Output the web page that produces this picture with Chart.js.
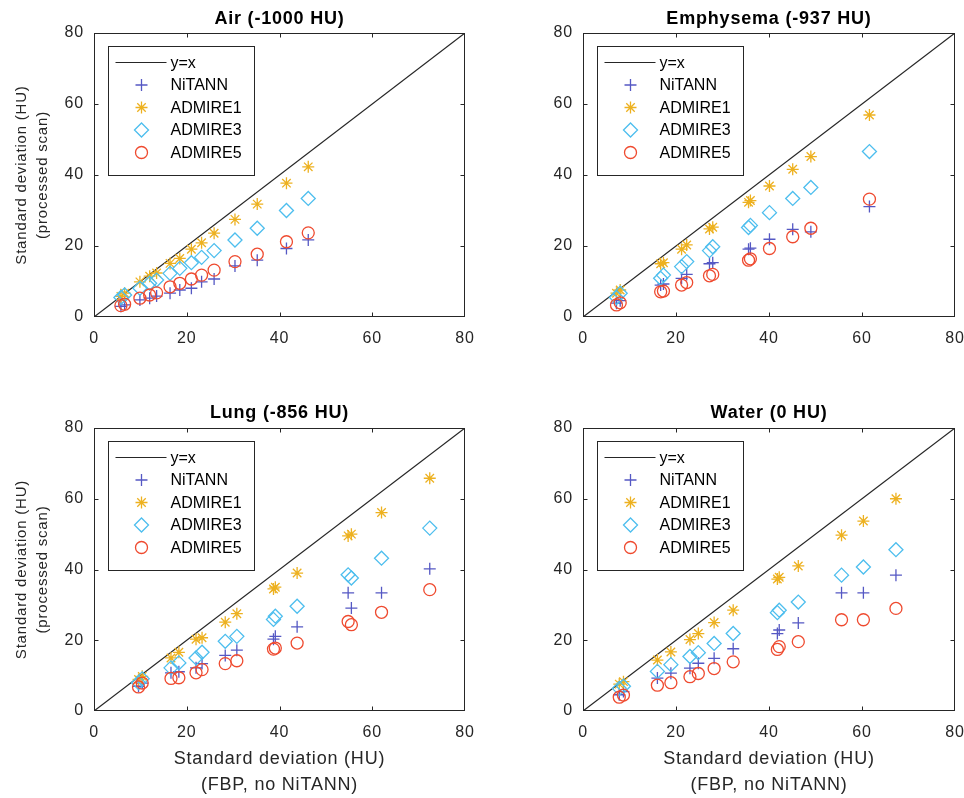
<!DOCTYPE html>
<html><head><meta charset="utf-8">
<script src="https://cdn.jsdelivr.net/npm/chart.js@4/dist/chart.umd.min.js"></script>
<style>
html,body{margin:0;padding:0;background:#fff;width:964px;height:798px;overflow:hidden}
canvas{position:absolute}
</style></head><body>
<canvas id="c1" width="482" height="399" style="left:0;top:0"></canvas>
<canvas id="c2" width="482" height="399" style="left:482px;top:0"></canvas>
<canvas id="c3" width="482" height="399" style="left:0;top:399px"></canvas>
<canvas id="c4" width="482" height="399" style="left:482px;top:399px"></canvas>
<script>
// ---------- data ----------
const tickValues = [0, 20, 40, 60, 80];
const seriesNames = ['NiTANN', 'ADMIRE1', 'ADMIRE3', 'ADMIRE5'];
const refLabel = 'y=x';
const diagX = [0, 80];
const diagY = [0, 80];

const airX       = [5.8, 6.6, 9.9, 12.0, 13.5, 16.4, 18.5, 21.0, 23.2, 25.9, 30.4, 35.2, 41.5, 46.2];
const airNiTANN  = [3.0, 3.4, 4.8, 5.3, 5.9, 6.7, 7.6, 8.1, 9.9, 10.7, 14.4, 16.0, 19.3, 21.7];
const airADMIRE1 = [5.8, 6.7, 9.9, 11.5, 12.4, 15.1, 16.5, 19.1, 20.9, 23.6, 27.5, 31.8, 37.7, 42.3];
const airADMIRE3 = [5.5, 6.2, 8.1, 9.5, 10.4, 12.3, 13.7, 15.3, 16.8, 18.7, 21.7, 25.0, 30.0, 33.4];
const airADMIRE5 = [3.2, 3.6, 5.3, 6.2, 6.8, 8.5, 9.5, 10.7, 11.8, 13.2, 15.6, 17.7, 21.2, 23.7];

const empX       = [7.2, 8.0, 16.7, 17.3, 21.2, 22.3, 27.2, 27.9, 35.6, 36.0, 40.1, 45.1, 49.0, 61.6];
const empNiTANN  = [3.9, 4.6, 9.0, 9.3, 10.9, 12.0, 15.0, 15.3, 19.1, 19.4, 21.9, 24.7, 24.0, 31.1];
const empADMIRE1 = [6.7, 7.6, 15.0, 15.3, 19.1, 20.3, 24.8, 25.3, 32.3, 32.8, 36.9, 41.6, 45.2, 56.9];
const empADMIRE3 = [5.5, 6.7, 10.9, 11.8, 14.2, 15.6, 18.7, 19.8, 25.2, 25.8, 29.4, 33.4, 36.5, 46.6];
const empADMIRE5 = [3.4, 4.0, 7.1, 7.3, 9.0, 9.7, 11.6, 12.0, 16.0, 16.4, 19.3, 22.6, 25.0, 33.2];

const lungX       = [9.6, 10.4, 16.6, 18.3, 22.0, 23.3, 28.3, 30.8, 38.7, 39.1, 43.8, 54.8, 55.5, 62.0, 72.4];
const lungNiTANN  = [7.0, 7.9, 10.8, 11.1, 12.2, 13.4, 15.7, 17.2, 20.3, 21.1, 23.8, 33.4, 29.1, 33.4, 40.2];
const lungADMIRE1 = [8.9, 9.8, 15.0, 16.6, 20.3, 20.7, 25.1, 27.5, 34.5, 35.0, 39.0, 49.5, 50.0, 56.1, 65.8];
const lungADMIRE3 = [8.0, 9.1, 12.2, 13.6, 15.0, 16.6, 19.7, 21.1, 25.9, 26.8, 29.6, 38.5, 37.6, 43.2, 51.7];
const lungADMIRE5 = [6.8, 7.9, 9.2, 9.4, 10.8, 11.7, 13.4, 14.2, 17.5, 17.8, 19.2, 25.3, 24.4, 27.9, 34.3];

const watX       = [7.8, 8.7, 16.0, 18.9, 23.0, 24.8, 28.2, 32.3, 41.8, 42.2, 46.3, 55.6, 60.3, 67.3];
const watNiTANN  = [4.6, 5.5, 9.3, 10.7, 12.1, 13.5, 14.9, 17.6, 21.9, 22.9, 24.9, 33.4, 33.4, 38.4];
const watADMIRE1 = [7.6, 8.3, 14.4, 16.7, 20.2, 21.9, 25.0, 28.5, 37.3, 37.8, 41.0, 49.7, 53.7, 60.0];
const watADMIRE3 = [6.4, 7.0, 11.2, 13.1, 15.4, 16.5, 19.1, 21.9, 27.8, 28.5, 30.8, 38.4, 40.7, 45.6];
const watADMIRE5 = [3.9, 4.5, 7.3, 8.0, 9.7, 10.6, 12.0, 13.9, 17.4, 18.2, 19.6, 25.8, 25.8, 29.0];

// ---------- styles ----------
const FONT = "'Liberation Sans', Arial, Helvetica, sans-serif";
Chart.defaults.font.family = FONT;
const AXC = '#262626';
const markerStyles = [
  { style: 'cross',   color: '#5558c4', r: 6 },
  { style: 'star',    color: '#edb120', r: 6 },
  { style: 'rectRot', color: '#4dbeee', r: 7 },
  { style: 'circle',  color: '#ef4a2f', r: 6 }
];

function drawMarker(ctx, style, x, y, r) {
  ctx.beginPath();
  if (style === 'cross' || style === 'star') {
    ctx.moveTo(x, y - r); ctx.lineTo(x, y + r);
    ctx.moveTo(x - r, y); ctx.lineTo(x + r, y);
    if (style === 'star') {
      const d = r * Math.SQRT1_2;
      ctx.moveTo(x - d, y - d); ctx.lineTo(x + d, y + d);
      ctx.moveTo(x - d, y + d); ctx.lineTo(x + d, y - d);
    }
  } else if (style === 'rectRot') {
    ctx.moveTo(x - r, y); ctx.lineTo(x, y - r); ctx.lineTo(x + r, y); ctx.lineTo(x, y + r); ctx.closePath();
  } else {
    ctx.arc(x, y, r, 0, Math.PI * 2);
  }
  ctx.stroke();
}

const framePlugin = {
  id: 'frame',
  beforeDraw(chart) { chart.ctx.letterSpacing = '0.8px'; },
  afterDatasetsDraw(chart) {
    const { ctx, chartArea: a, scales } = chart;
    ctx.save();
    ctx.letterSpacing = '0px';
    ctx.strokeStyle = AXC; ctx.lineWidth = 1;
    const L = Math.round(a.left) + 0.5, R = Math.round(a.right) - 0.5;
    const T = Math.round(a.top) + 0.5, B = Math.round(a.bottom) - 0.5;
    ctx.strokeRect(L, T, R - L, B - T);
    ctx.beginPath();
    tickValues.slice(1, -1).forEach(v => {
      const px = Math.round(scales.x.getPixelForValue(v)) + 0.5;
      ctx.moveTo(px, B); ctx.lineTo(px, B - 4);
      ctx.moveTo(px, T); ctx.lineTo(px, T + 4);
      const py = Math.round(scales.y.getPixelForValue(v)) + 0.5;
      ctx.moveTo(L, py); ctx.lineTo(L + 4, py);
      ctx.moveTo(R, py); ctx.lineTo(R - 4, py);
    });
    ctx.stroke();
    // legend inside axes
    const bx = Math.round(a.left) + 14.5, by = Math.round(a.top) + 13.5, bw = 146, bh = 129;
    ctx.fillStyle = '#fff';
    ctx.fillRect(bx, by, bw, bh);
    ctx.strokeRect(bx, by, bw, bh);
    const labels = [refLabel].concat(seriesNames);
    ctx.font = '16px ' + FONT;
    ctx.textBaseline = 'middle';
    ctx.textAlign = 'left';
    labels.forEach((lab, i) => {
      const yy = by + 16 + i * 22.5;
      ctx.lineWidth = 1;
      if (i === 0) {
        ctx.strokeStyle = AXC; ctx.lineWidth = 1.2;
        ctx.beginPath(); ctx.moveTo(bx + 7, yy); ctx.lineTo(bx + 58, yy); ctx.stroke();
      } else {
        const m = markerStyles[i - 1];
        ctx.strokeStyle = m.color; ctx.lineWidth = 1.3;
        drawMarker(ctx, m.style, bx + 33, yy, m.r);
      }
      ctx.fillStyle = '#000';
      ctx.fillText(lab, bx + 62, yy + 1);
    });
    ctx.restore();
  }
};

function panel(id, title, X, ys, o) {
  const datasets = [{
    label: refLabel,
    data: diagX.map((x, j) => ({ x: x, y: diagY[j] })),
    showLine: true, borderColor: AXC, borderWidth: 1.2, pointRadius: 0, fill: false, order: 10
  }];
  ys.forEach((arr, i) => {
    const m = markerStyles[i];
    datasets.push({
      label: seriesNames[i],
      data: X.map((x, j) => ({ x: x, y: arr[j] })),
      showLine: false,
      pointStyle: m.style, pointRadius: m.r,
      pointBorderColor: m.color, pointBackgroundColor: 'rgba(0,0,0,0)',
      pointBorderWidth: 1.3, order: 4 - i
    });
  });
  const setTicks = s => { s.ticks = tickValues.map(v => ({ value: v })); };
  new Chart(document.getElementById(id), {
    type: 'scatter',
    data: { datasets },
    plugins: [framePlugin],
    options: {
      responsive: false, animation: false, devicePixelRatio: 1, events: [],
      layout: { padding: { left: 0, right: o.padR, top: 0, bottom: 0 } },
      plugins: {
        legend: { display: false }, tooltip: { enabled: false },
        title: {
          display: true, text: title, color: '#000', fullSize: false,
          font: { size: 18, weight: 'bold', lineHeight: 1.2 },
          padding: { top: o.tTop, bottom: o.tBot }
        }
      },
      scales: {
        x: {
          type: 'linear', min: 0, max: 80, afterBuildTicks: setTicks,
          ticks: { font: { size: 16 }, color: AXC, padding: 12, maxRotation: 0, autoSkip: false },
          grid: { display: false, drawTicks: false }, border: { display: false },
          title: o.xTitle ? {
            display: true, text: ['Standard deviation (HU)', '(FBP, no NiTANN)'], color: AXC,
            font: { size: 18, lineHeight: 26 / 18 }, padding: { top: 0, bottom: 0 }
          } : { display: false },
          afterFit: s => { s.height = o.xH; s.paddingLeft = 0; s.paddingRight = 0; }
        },
        y: {
          type: 'linear', min: 0, max: 80, afterBuildTicks: setTicks,
          ticks: { font: { size: 16 }, color: AXC, padding: 10, autoSkip: false },
          grid: { display: false, drawTicks: false }, border: { display: false },
          title: o.yTitle ? {
            display: true, text: ['Standard deviation (HU)', '(processed scan)'], color: AXC,
            font: { size: 15, lineHeight: 21 / 15 }, padding: { top: 11.5, bottom: 0 }
          } : { display: false },
          afterFit: s => { s.width = o.yW; s.paddingTop = 0; s.paddingBottom = 0; }
        }
      }
    }
  });
}

panel('c1', 'Air (-1000 HU)', airX, [airNiTANN, airADMIRE1, airADMIRE3, airADMIRE5],
  { padR: 17, yW: 94, xH: 82, tTop: 8, tBot: 3.4, xTitle: false, yTitle: true });
panel('c2', 'Emphysema (-937 HU)', empX, [empNiTANN, empADMIRE1, empADMIRE3, empADMIRE5],
  { padR: 9, yW: 101, xH: 82, tTop: 8, tBot: 3.4, xTitle: false, yTitle: false });
panel('c3', 'Lung (-856 HU)', lungX, [lungNiTANN, lungADMIRE1, lungADMIRE3, lungADMIRE5],
  { padR: 17, yW: 94, xH: 87, tTop: 3.4, tBot: 4, xTitle: true, yTitle: true });
panel('c4', 'Water (0 HU)', watX, [watNiTANN, watADMIRE1, watADMIRE3, watADMIRE5],
  { padR: 9, yW: 101, xH: 87, tTop: 3.4, tBot: 4, xTitle: true, yTitle: false });
</script>
</body></html>
